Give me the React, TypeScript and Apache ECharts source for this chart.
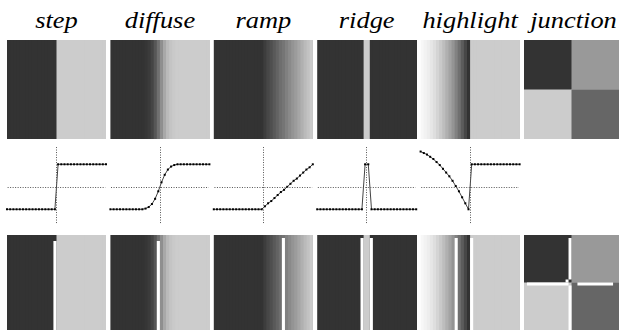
import React, { useEffect, useRef } from "react";
import * as echarts from "echarts";

// ---------------- data ----------------
const titles = ["step", "diffuse", "ramp", "ridge", "highlight", "junction"];

// 32-sample gray-level profiles (0 = black, 1 = white)
const stepProfile = [
  0.2, 0.2, 0.2, 0.2, 0.2, 0.2, 0.2, 0.2, 0.2, 0.2, 0.2, 0.2, 0.2, 0.2, 0.2, 0.2,
  0.8, 0.8, 0.8, 0.8, 0.8, 0.8, 0.8, 0.8, 0.8, 0.8, 0.8, 0.8, 0.8, 0.8, 0.8, 0.8,
];
const diffuseProfile = [
  0.2, 0.2, 0.2, 0.2, 0.2, 0.2, 0.2, 0.2, 0.2, 0.2, 0.2, 0.21, 0.23, 0.27, 0.34, 0.44,
  0.56, 0.66, 0.73, 0.77, 0.79, 0.8, 0.8, 0.8, 0.8, 0.8, 0.8, 0.8, 0.8, 0.8, 0.8, 0.8,
];
const rampProfile = [
  0.2, 0.2, 0.2, 0.2, 0.2, 0.2, 0.2, 0.2, 0.2, 0.2, 0.2, 0.2, 0.2, 0.2, 0.2, 0.2,
  0.24, 0.28, 0.31, 0.35, 0.39, 0.43, 0.46, 0.5, 0.54, 0.58, 0.61, 0.65, 0.69, 0.73, 0.76, 0.8,
];
const ridgeProfile = [
  0.2, 0.2, 0.2, 0.2, 0.2, 0.2, 0.2, 0.2, 0.2, 0.2, 0.2, 0.2, 0.2, 0.2, 0.2, 0.8,
  0.8, 0.2, 0.2, 0.2, 0.2, 0.2, 0.2, 0.2, 0.2, 0.2, 0.2, 0.2, 0.2, 0.2, 0.2, 0.2,
];
const highlightProfile = [
  0.97, 0.95, 0.93, 0.9, 0.87, 0.83, 0.79, 0.74, 0.69, 0.64, 0.58, 0.51, 0.44, 0.36, 0.28, 0.2,
  0.8, 0.8, 0.8, 0.8, 0.8, 0.8, 0.8, 0.8, 0.8, 0.8, 0.8, 0.8, 0.8, 0.8, 0.8, 0.8,
];
const profiles = [stepProfile, diffuseProfile, rampProfile, ridgeProfile, highlightProfile];

// detected edge columns (bottom row) and the row where each marker starts
const edgeColumns = [[15], [15], [22], [14, 17], [11, 16]];
const edgeStartRows = [2, 2, 1, 1, 1];

// junction: gray levels of quadrants TL, TR, BL, BR
const junctionLevels = [0.2, 0.6, 0.8, 0.4];
// junction edge runs: [col0, col1, row0, row1] (inclusive)
const junctionEdgeRuns = [
  [15, 15, 1, 14],
  [14, 14, 15, 15],
  [1, 14, 16, 16],
  [18, 29, 16, 16],
  [15, 15, 17, 31],
];

const crossLevel = 0.5;
const crossColumn = 15.5;

// ---------------- layout ----------------
const PANEL_LEFT = [7, 110.4, 213.8, 317.2, 420.6, 524];
const PANEL_W = 99;
const TOP_ROW_Y = 40;
const BOTTOM_ROW_Y = 235;
const PLOT_TOP = 145.55;
const PLOT_H = 82.5;
const N = 32;
const HALF = 16;

function gray(v: number) {
  const g = Math.round(v * 255);
  return `rgb(${g},${g},${g})`;
}

// each item: [x0, x1, y0, y1, level]; drawn in order, later items paint over earlier ones
const renderCell = (_params: any, api: any) => {
  const p0 = api.coord([api.value(0), api.value(2)]);
  const p1 = api.coord([api.value(1), api.value(3)]);
  return {
    type: "rect",
    shape: {
      x: Math.min(p0[0], p1[0]),
      y: Math.min(p0[1], p1[1]),
      width: Math.abs(p1[0] - p0[0]),
      height: Math.abs(p1[1] - p0[1]),
    },
    style: { fill: gray(api.value(4)) },
  };
};

function buildOption() {
  const grid: any[] = [];
  const xAxis: any[] = [];
  const yAxis: any[] = [];
  const series: any[] = [];

  const addImage = (left: number, top: number, data: number[][]) => {
    const gi = grid.length;
    grid.push({ left, top, width: PANEL_W, height: PANEL_W, containLabel: false });
    xAxis.push({ type: "value", gridIndex: gi, min: 0, max: N, show: false, splitLine: { show: false } });
    yAxis.push({ type: "value", gridIndex: gi, min: 0, max: N, inverse: true, show: false, splitLine: { show: false } });
    series.push({
      type: "custom",
      xAxisIndex: gi,
      yAxisIndex: gi,
      clip: true,
      silent: true,
      encode: { x: [0, 1], y: [2, 3] },
      renderItem: renderCell,
      data,
    });
  };

  // each column painted from its left edge to the panel's right edge, so no seams
  const columns = (p: number[]) => p.map((v, i) => [i, N, 0, N, v]);
  const junctionQuads = [
    [0, N, 0, N, junctionLevels[0]],
    [HALF, N, 0, N, junctionLevels[1]],
    [0, N, HALF, N, junctionLevels[2]],
    [HALF, N, HALF, N, junctionLevels[3]],
  ];

  // top row
  profiles.forEach((p, k) => addImage(PANEL_LEFT[k], TOP_ROW_Y, columns(p)));
  addImage(PANEL_LEFT[5], TOP_ROW_Y, junctionQuads);

  // bottom row
  profiles.forEach((p, k) => {
    const edges = edgeColumns[k].map((c) => [c, c + 1, edgeStartRows[k], N, 1]);
    addImage(PANEL_LEFT[k], BOTTOM_ROW_Y, columns(p).concat(edges));
  });
  addImage(
    PANEL_LEFT[5],
    BOTTOM_ROW_Y,
    junctionQuads.concat(junctionEdgeRuns.map(([c0, c1, r0, r1]) => [c0, c1 + 1, r0, r1 + 1, 1]))
  );

  // middle row plots
  profiles.forEach((p, k) => {
    const gi = grid.length;
    grid.push({ left: PANEL_LEFT[k], top: PLOT_TOP, width: PANEL_W, height: PLOT_H, containLabel: false });
    xAxis.push({ type: "value", gridIndex: gi, min: 0, max: N - 1, show: false, splitLine: { show: false } });
    yAxis.push({ type: "value", gridIndex: gi, min: -0.05, max: 1.05, show: false, splitLine: { show: false } });
    series.push({
      type: "line",
      xAxisIndex: gi,
      yAxisIndex: gi,
      data: p.map((v, i) => [i, v]),
      symbol: "rect",
      symbolSize: 2,
      showSymbol: true,
      showAllSymbol: true,
      itemStyle: { color: "#000" },
      lineStyle: { color: "#444", width: 1 },
      silent: true,
      z: 3,
      markLine: {
        silent: true,
        symbol: "none",
        label: { show: false },
        lineStyle: { color: "#555", width: 1, type: [1, 1.5] },
        data: [
          [{ coord: [crossColumn, 1.03] }, { coord: [crossColumn, 0.015] }],
          [{ coord: [0.2, crossLevel] }, { coord: [30.8, crossLevel] }],
        ],
      },
    });
  });

  const graphic = titles.map((t, i) => ({
    type: "text",
    x: PANEL_LEFT[i] + PANEL_W / 2,
    y: 20.5,
    scaleX: 1.15,
    style: {
      text: t,
      font: "italic 23px 'Liberation Serif', 'Times New Roman', serif",
      fill: "#000",
      align: "center",
      verticalAlign: "middle",
    },
  }));

  return {
    animation: false,
    backgroundColor: "#fff",
    grid,
    xAxis,
    yAxis,
    series,
    graphic,
  };
}

export default function App() {
  const ref = useRef<HTMLDivElement>(null);
  useEffect(() => {
    if (!ref.current) return;
    const chart = echarts.init(ref.current, undefined, { renderer: "svg" });
    chart.setOption(buildOption() as any);
    return () => chart.dispose();
  }, []);
  return (
    <div
      ref={ref}
      style={{ position: "absolute", left: 0, top: 0, width: 619, height: 330, background: "#fff" }}
    />
  );
}
